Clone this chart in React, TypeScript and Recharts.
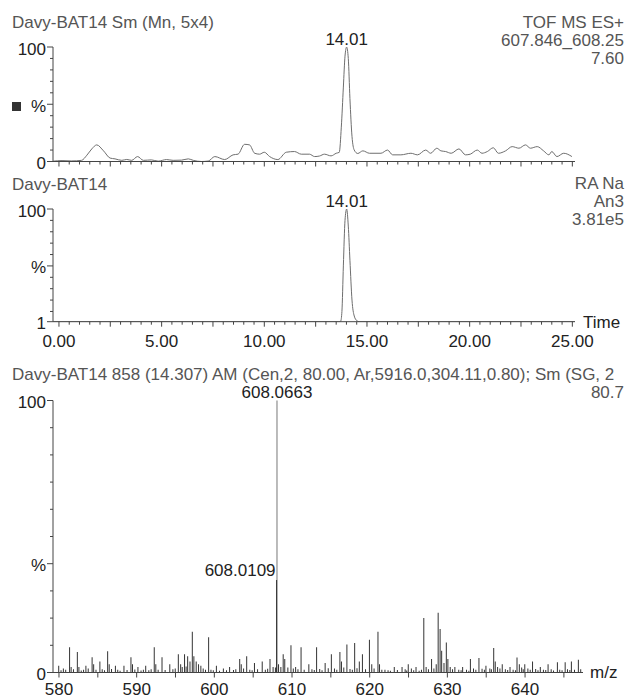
import React from 'react';
import {
  ComposedChart,
  Line,
  Bar,
  XAxis,
  YAxis,
  ReferenceDot,
  ReferenceLine,
} from 'recharts';

const W = 630;
const H = 699;
const FONT = '"Liberation Sans", Arial, sans-serif';
const INK = '#222';
const GREY = '#555';
const AXIS = '#444';
const TRACE = '#6e6e6e';

// top panel: smoothed mass chromatogram 607.846_608.25 (% of 7.60)
const xicTime = [
  -0.28, 0.15, 0.6, 1.1, 1.36, 1.6, 1.84, 2.17, 2.49, 2.73, 3.06, 3.3, 3.54, 3.83, 4.11, 4.5,
  4.83, 5.24, 5.56, 5.97, 6.3, 6.54, 6.94, 7.27, 7.59, 8.07, 8.48, 8.72, 9.04, 9.28, 9.53, 9.77,
  10.0, 10.26, 10.66, 11.07, 11.47, 11.8, 12.2, 12.45, 12.69, 12.93, 13.25, 13.5, 13.65, 13.75,
  13.85, 13.93, 14.01, 14.09, 14.17, 14.27, 14.38, 14.55, 14.8, 15.12, 15.68, 16.0, 16.25, 16.65,
  17.14, 17.46, 17.86, 18.1, 18.4, 18.6, 18.83, 19.1, 19.48, 19.8, 20.03, 20.37, 20.6, 20.86,
  21.15, 21.4, 21.75, 22.07, 22.4, 22.72, 22.96, 23.29, 23.6, 23.86, 24.0, 24.25, 24.58, 24.98,
];
const xicPct = [
  0.3, 0.8, 0.5, 1.0, 5.5, 11, 14.5, 9.3, 3, 2.3, 1, 1.8, 1, 4.3, 1, 1.4,
  0.3, 1.7, 1, 1.2, 2.3, 1, 0, 0.4, 4.3, 1.7, 5.8, 6.4, 15, 14.5, 7.2, 6.4,
  8.1, 4.3, 1.7, 8.1, 8.7, 6.4, 6.4, 4.3, 4.8, 6.4, 4.9, 7.2, 8, 30,
  65, 92, 100, 90, 55, 22, 10, 7, 9.3, 7.2, 7.2, 10, 5.8, 5.8,
  7.2, 5.8, 10, 7.2, 11.6, 9.3, 8.7, 7.2, 11, 5.8, 6.4, 10, 7.2, 8.7,
  12, 7.2, 9.3, 13, 11.6, 14.5, 11.6, 13, 9.3, 5.8, 8.7, 4.3, 7.2, 4.3,
];

// middle panel: RA Na An3 trace (% of 3.81e5)
const ticTime = [-0.28, 13.6, 13.72, 13.78, 13.85, 13.93, 14.01, 14.09, 14.17, 14.27, 14.38, 14.5, 14.62, 25.13];
const ticPct = [1, 1, 1.5, 10, 50, 90, 100, 85, 55, 20, 6, 2, 1, 1];

// bottom panel: spectrum at scan 858 (% of 80.7)
const stickMz = [
  580.0, 580.6, 581.4, 581.6, 582.4, 582.6, 583.5, 584.3, 584.5, 585.3, 586.3, 586.5, 587.3, 588.4,
  589.3, 589.5, 590.2, 591.2, 592.3, 592.5, 593.3, 594.3, 595.4, 595.7, 596.2, 596.6, 596.9, 597.2,
  597.4, 597.7, 598.0, 598.3, 599.3, 600.3, 601.2, 602.0, 603.3, 603.5, 604.2, 605.2, 606.2, 607.2,
  607.6, 608.3, 608.9, 609.1, 609.9, 610.5, 611.2, 612.2, 613.2, 614.3, 615.1, 616.2, 616.4, 617.1,
  618.1, 618.7, 619.1, 620.0, 620.3, 621.1, 621.3, 622.0, 623.2, 624.2, 625.0, 626.0, 627.0, 627.3,
  628.0, 628.85, 629.1, 629.3, 629.9, 630.1, 631.0, 632.0, 633.0, 634.1, 635.0, 636.0, 636.2, 637.1,
  638.1, 639.0, 639.3, 640.0, 641.0, 642.0, 643.0, 644.2, 645.2, 646.0, 646.9,
];
const stickPct = [
  2.5, 1.5, 9.3, 2, 7.5, 2, 2.5, 5.6, 3, 4, 7.8, 3, 2.5, 2.5,
  5.6, 3, 2, 2.5, 9.3, 3, 5.6, 3, 6.7, 3, 6.7, 6, 4, 15,
  6, 4, 3, 2.5, 13, 2.5, 1.5, 2, 5, 3, 6, 3.5, 4, 5,
  2, 3, 6.7, 5, 10, 2, 9.3, 3, 9.3, 3.5, 6.7, 7.5, 4, 10.3,
  10.8, 4, 6.7, 12, 3, 15, 3, 1, 2, 2, 3, 2, 20, 2,
  5, 22, 16, 8, 11, 5, 2, 2, 5, 5.3, 2.5, 9, 4, 3,
  2, 5.5, 3, 3, 4, 2, 3, 3.8, 3.8, 4, 4.7,
];
const noiseMz = [
  580.3, 580.9, 581.9, 582.9, 583.2, 583.8, 584.8, 585.6, 585.9, 586.8, 587.6, 587.9, 588.8, 589.8,
  590.6, 590.9, 591.6, 591.9, 592.8, 593.7, 594.7, 595.0, 595.9, 596.4, 598.6, 598.9, 599.6, 599.9,
  600.7, 601.6, 602.5, 602.8, 603.8, 604.6, 604.9, 605.6, 606.6, 606.9, 607.9, 608.6, 609.5, 610.2,
  610.8, 611.6, 612.6, 612.9, 613.6, 613.9, 614.7, 615.5, 615.8, 616.7, 617.5, 617.8, 618.4, 619.5,
  620.6, 621.6, 622.4, 622.7, 623.6, 624.6, 624.8, 625.4, 625.7, 626.4, 626.7, 627.6, 628.3, 628.6,
  629.6, 630.4, 630.7, 631.5, 631.8, 632.5, 632.8, 633.4, 633.7, 634.5, 634.8, 635.5, 635.7, 636.5,
  636.8, 637.5, 637.8, 638.5, 638.8, 639.6, 639.8, 640.4, 640.7, 641.4, 641.7, 642.4, 642.7, 643.4,
  643.7, 644.5, 644.8, 645.5, 645.8, 646.4, 647.2,
];
const noisePct = [
  0.8, 1, 1.2, 0.7, 1, 1.5, 1, 1.2, 0.8, 1.3, 1, 0.6, 0.9, 1.1,
  0.7, 1, 0.8, 1.2, 1, 0.9, 1.2, 1.5, 2, 2.2, 1.5, 1, 1, 0.8,
  0.6, 0.8, 0.9, 1.2, 1.5, 1, 0.8, 1.2, 1, 1.4, 1.8, 2, 1.8, 1.5,
  1.2, 1, 1.2, 0.9, 1.3, 0.8, 1.6, 1.5, 1, 1.8, 1.3, 1, 1.6, 1.2,
  1.5, 1, 0.8, 0.6, 0.9, 1.2, 0.7, 1.5, 0.8, 0.6, 1, 1.2, 1.5, 3,
  3.5, 2, 1.2, 1, 0.8, 1, 0.6, 1.5, 1, 1.4, 1, 1.5, 1.2, 2,
  1.5, 1.2, 0.9, 1, 0.8, 1.8, 1.2, 1.5, 1, 1.3, 0.8, 1, 0.9, 1.2,
  0.7, 1, 0.8, 1.2, 0.9, 1, 1.2,
];
const basePeak = { mz: 608.0663, pct: 100, label: '608.0663' };
const nextPeak = { mz: 608.0109, pct: 34, label: '608.0109' };
const rtPeak = { t: 14.01, label: '14.01' };

const timeTicks = Array.from({ length: 51 }, (_, i) => i * 0.5);
const mzTicks = Array.from({ length: 14 }, (_, i) => 580 + i * 5);
const pctTicks = Array.from({ length: 11 }, (_, i) => i * 10);
const pctTicks1 = [1, ...pctTicks.slice(1)];

const xicData = xicTime.map((t, i) => ({ t, v: xicPct[i] }));
const ticData = ticTime.map((t, i) => ({ t, v: ticPct[i] }));
const stickData = [
  ...stickMz.map((mz, i) => ({ mz, v: stickPct[i] })),
  ...noiseMz.map((mz, i) => ({ mz, v: noisePct[i] })),
].sort((a, b) => a.mz - b.mz);

const isMult = (v: number, step: number) => Math.abs(v / step - Math.round(v / step)) < 1e-6;

const makeXTick = (major: number, every: number | null, fmt: (v: number) => string, dy: number) =>
  (props: any) => {
    const { x, y, payload } = props;
    const v = payload.value;
    return (
      <g>
        <line x1={x} x2={x} y1={y} y2={y + (isMult(v, major) ? 5 : 3)} stroke={AXIS} />
        {every !== null && isMult(v, every) && (
          <text x={x} y={y + dy} textAnchor="middle" fontSize={17} fill={INK} fontFamily={FONT}>
            {fmt(v)}
          </text>
        )}
      </g>
    );
  };

const makeYTick = (labels: Record<number, string>) => (props: any) => {
  const { x, y, payload } = props;
  const lab = labels[payload.value];
  return (
    <g>
      <line x1={x - (lab ? 6 : 3)} x2={x} y1={y} y2={y} stroke={AXIS} />
      {lab && (
        <text x={x - 7} y={y + 7.5} textAnchor="end" fontSize={17} fill={INK} fontFamily={FONT}>
          {lab}
        </text>
      )}
    </g>
  );
};

const peakLabel = (text: string) => ({
  value: text,
  position: 'top' as const,
  offset: 2,
  fill: INK,
  fontSize: 17,
  fontFamily: FONT,
});

const layer: React.CSSProperties = { position: 'absolute', left: 0, top: 0 };

export default function App() {
  return (
    <div style={{ position: 'fixed', left: 0, top: 0, width: W, height: H, background: '#fff', fontFamily: FONT }}>
      {/* top: chromatogram */}
      <div style={layer}>
        <ComposedChart width={W} height={H} data={xicData} margin={{ top: 47, right: 55, bottom: 0, left: 0 }}>
          <XAxis
            type="number"
            dataKey="t"
            domain={[-0.29, 25.13]}
            allowDataOverflow
            ticks={timeTicks}
            interval={0}
            tickSize={0}
            tickMargin={0}
            tickLine={false}
            axisLine={{ stroke: AXIS }}
            tick={makeXTick(2.5, null, (v) => v.toFixed(2), 0)}
            height={H - 161.5}
          />
          <YAxis
            type="number"
            domain={[0, 100]}
            allowDataOverflow
            ticks={pctTicks}
            interval={0}
            tickSize={0}
            tickMargin={0}
            tickLine={false}
            axisLine={{ stroke: AXIS }}
            tick={makeYTick({ 0: '0', 50: '%', 100: '100' })}
            width={53}
          />
          <Line dataKey="v" type="monotone" stroke={TRACE} strokeWidth={1} dot={false} isAnimationActive={false} />
          <ReferenceDot x={rtPeak.t} y={100} r={0} stroke="none" label={peakLabel(rtPeak.label)} />
        </ComposedChart>
      </div>

      {/* middle: RA Na An3 */}
      <div style={layer}>
        <ComposedChart width={W} height={H} data={ticData} margin={{ top: 209, right: 55, bottom: 0, left: 0 }}>
          <XAxis
            type="number"
            dataKey="t"
            domain={[-0.29, 25.13]}
            allowDataOverflow
            ticks={timeTicks}
            interval={0}
            tickSize={0}
            tickMargin={0}
            tickLine={false}
            axisLine={{ stroke: AXIS }}
            tick={makeXTick(2.5, 5, (v) => v.toFixed(2), 25)}
            height={H - 321.7}
          />
          <YAxis
            type="number"
            domain={[1, 100]}
            allowDataOverflow
            ticks={pctTicks1}
            interval={0}
            tickSize={0}
            tickMargin={0}
            tickLine={false}
            axisLine={{ stroke: AXIS }}
            tick={makeYTick({ 1: '1', 50: '%', 100: '100' })}
            width={53}
          />
          <Line dataKey="v" type="monotone" stroke={TRACE} strokeWidth={1} dot={false} isAnimationActive={false} />
          <ReferenceDot x={rtPeak.t} y={100} r={0} stroke="none" label={peakLabel(rtPeak.label)} />
        </ComposedChart>
      </div>

      {/* bottom: spectrum */}
      <div style={layer}>
        <ComposedChart width={W} height={H} data={stickData} margin={{ top: 400.5, right: 47, bottom: 0, left: 0 }}>
          <XAxis
            type="number"
            dataKey="mz"
            domain={[579.23, 647.46]}
            allowDataOverflow
            ticks={mzTicks}
            interval={0}
            tickSize={0}
            tickMargin={0}
            tickLine={false}
            axisLine={{ stroke: AXIS }}
            tick={makeXTick(5, 10, (v) => String(v), 22.5)}
            height={H - 672.5}
          />
          <YAxis
            type="number"
            domain={[0, 100]}
            allowDataOverflow
            ticks={pctTicks}
            interval={0}
            tickSize={0}
            tickMargin={0}
            tickLine={false}
            axisLine={{ stroke: AXIS }}
            tick={makeYTick({ 0: '0', 40: '%', 100: '100' })}
            width={53}
          />
          <Bar dataKey="v" barSize={1} fill="#333" isAnimationActive={false} />
          <ReferenceLine
            segment={[{ x: basePeak.mz, y: 0 }, { x: basePeak.mz, y: basePeak.pct }]}
            stroke="#777"
            strokeWidth={1}
          />
          <ReferenceLine
            segment={[{ x: nextPeak.mz, y: 0 }, { x: nextPeak.mz, y: nextPeak.pct }]}
            stroke="#333"
            strokeWidth={1}
          />
          <ReferenceDot x={basePeak.mz} y={basePeak.pct} r={0} stroke="none" label={{ ...peakLabel(basePeak.label), offset: 2.5 }} />
          <ReferenceDot
            x={nextPeak.mz}
            y={nextPeak.pct}
            r={0}
            stroke="none"
            label={({ viewBox }: any) => (
              <text x={viewBox.x - 1} y={viewBox.y - 4} textAnchor="end" fontSize={17} fill={INK} fontFamily={FONT}>
                {nextPeak.label}
              </text>
            )}
          />
        </ComposedChart>
      </div>

      {/* headers */}
      <svg width={W} height={H} style={{ ...layer, pointerEvents: 'none' }} fontFamily={FONT} fontSize={17}>
        <g fill={GREY}>
          <text x={12} y={28}>Davy-BAT14 Sm (Mn, 5x4)</text>
          <text x={624} y={28} textAnchor="end">TOF MS ES+</text>
          <text x={624} y={45.5} textAnchor="end">607.846_608.25</text>
          <text x={624} y={63.5} textAnchor="end">7.60</text>
          <text x={12} y={190}>Davy-BAT14</text>
          <text x={624} y={189} textAnchor="end">RA Na</text>
          <text x={624} y={207} textAnchor="end">An3</text>
          <text x={624} y={225} textAnchor="end">3.81e5</text>
          <text x={12} y={380}>Davy-BAT14 858 (14.307) AM (Cen,2, 80.00, Ar,5916.0,304.11,0.80); Sm (SG, 2</text>
          <text x={624} y={398} textAnchor="end">80.7</text>
        </g>
        <rect x={12} y={102} width={9} height={9} fill="#333" />
        <text x={583} y={328} fill={INK}>Time</text>
        <text x={590} y={678} fill={INK}>m/z</text>
      </svg>
    </div>
  );
}
